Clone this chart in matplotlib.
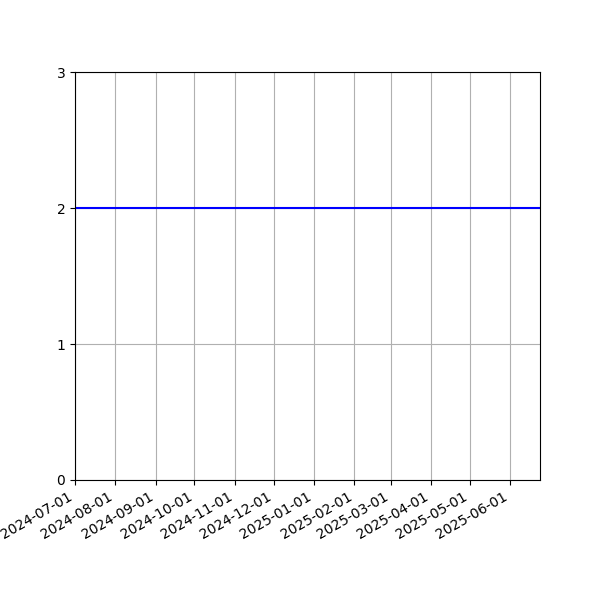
import datetime as dt

import matplotlib
matplotlib.use('Agg')
import matplotlib.pyplot as plt
import matplotlib.dates as mdates

dates = [dt.datetime(2024, 7, 1), dt.datetime(2025, 6, 24)]
values = [2, 2]

fig, ax = plt.subplots(figsize=(6, 6), dpi=100)
ax.plot(dates, values, color='blue', linewidth=1.5)
ax.set_xlim(dates[0], dates[-1])
ax.set_ylim(0, 3)
ax.set_yticks([0, 1, 2, 3])
ax.xaxis.set_major_locator(mdates.MonthLocator())
ax.xaxis.set_major_formatter(mdates.DateFormatter('%Y-%m-%d'))
ax.grid(True)
fig.autofmt_xdate()
plt.savefig('out.png')
